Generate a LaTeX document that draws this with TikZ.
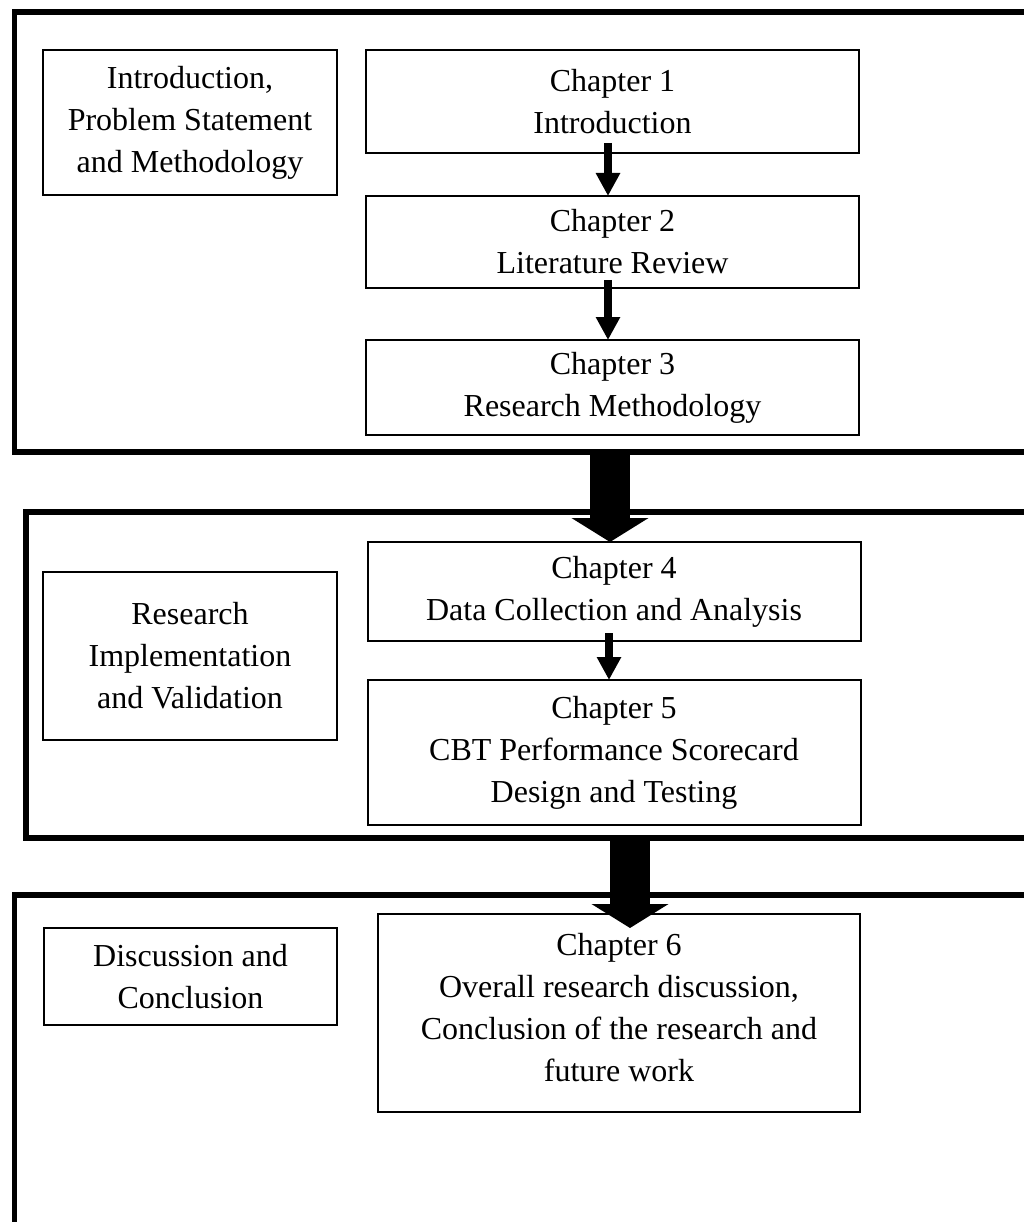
\documentclass[tikz,border=0pt]{standalone}
\usepackage{fontspec}
\setmainfont{Liberation Serif}
\usetikzlibrary{arrows.meta}
\usetikzlibrary{positioning}

\begin{document}
\begin{tikzpicture}[x=1pt,y=-1pt,
  every node/.style={font=\fontsize{32}{42}\selectfont,inner sep=0pt,outer sep=0pt},
  stage/.style={draw,line width=5.5pt},
  partbox/.style={draw,line width=2pt,align=center,minimum width=294pt},
  chapbox/.style={draw,line width=2pt,align=center,minimum width=493pt},
  thinarrow/.style={line width=8pt,-{Triangle[width=23pt,length=23pt]}},
  thickarrow/.style={line width=40pt,-{Triangle[width=76pt,length=24pt]}}]
\useasboundingbox (0,0) rectangle (1024,1222);
\clip (0,0) rectangle (1024,1222);
\fill [white] (0,0) rectangle (1024,1222);
\node [stage,minimum width=1035.5pt,minimum height=440pt] (stage1) at (532.25,232) {};
\node [stage,minimum width=1024pt,minimum height=326pt] (stage2) at (538,675) {};
\node [stage,minimum width=1035.5pt,minimum height=405pt] (stage3) at (532.25,1097.5) {};
\node [partbox,minimum height=145pt] (intro) at (190,122.5) {Introduction,\\Problem Statement\\and Methodology};
\node [partbox,minimum height=168pt] (impl) at (190,656) {Research\\Implementation\\and Validation};
\node [partbox,minimum width=293pt,minimum height=97pt] (concl) at (190.5,976.5) {Discussion and\\Conclusion};
\node [chapbox,minimum height=103pt] (ch1) at (612.5,101.5) {Chapter 1\\Introduction};
\node [chapbox,minimum height=92pt] (ch2) at (612.5,242) {Chapter 2\\Literature Review};
\node [chapbox,minimum height=95pt] (ch3) at (612.5,387.5) {Chapter 3\\Research Methodology};
\node [chapbox,minimum height=99pt] (ch4) at (614,591.5) {Chapter 4\\Data Collection and Analysis};
\node [chapbox,minimum height=145pt] (ch5) at (614,752.5) {Chapter 5\\CBT Performance Scorecard\\Design and Testing};
\node [chapbox,minimum width=482pt,minimum height=198pt] (ch6) at (619,1013) {};
\node [align=center,below=19pt of ch6.north] (ch6text) {Chapter 6\\Overall research discussion,\\Conclusion of the research and\\future work};
\draw [thinarrow] ([xshift=-4.5pt,yshift=10pt]ch1.south) -- ([xshift=-4.5pt]ch2.north);
\draw [thinarrow] ([xshift=-4.5pt,yshift=8pt]ch2.south) -- ([xshift=-4.5pt]ch3.north);
\draw [thinarrow] ([xshift=-5pt,yshift=8pt]ch4.south) -- ([xshift=-5pt]ch5.north);
\draw [thickarrow] ([xshift=-4pt]ch4.north |- stage1.south) -- ([xshift=-4pt]ch4.north);
\draw [thickarrow] ([xshift=11pt]ch6.north |- stage2.south) -- ([xshift=11pt,yshift=-14pt]ch6.north);
\end{tikzpicture}
\end{document}
